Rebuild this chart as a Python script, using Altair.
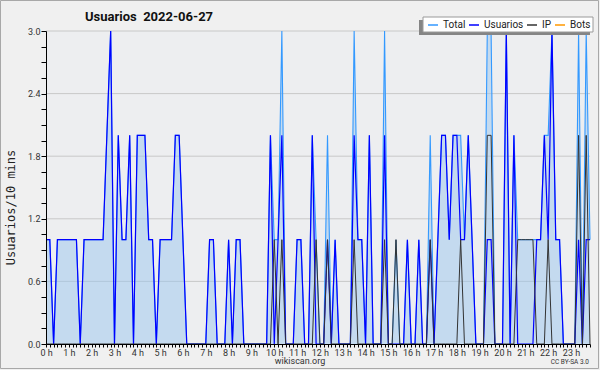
import altair as alt
import pandas as pd

# ---------------- data (10-minute slots, 2022-06-27) ----------------
slot_minutes = list(range(0, 1440, 10))

usuarios = [
    1, 1, 0, 1, 1, 1, 1, 1, 1, 0, 1, 1,
    1, 1, 1, 1, 2, 3, 0, 2, 1, 1, 2, 0,
    2, 2, 2, 1, 1, 0, 1, 1, 1, 1, 2, 2,
    1, 0, 0, 0, 0, 0, 0, 1, 1, 0, 0, 0,
    1, 0, 1, 1, 0, 0, 0, 0, 0, 0, 0, 2,
    0, 1, 2, 0, 0, 0, 1, 1, 0, 0, 2, 0,
    0, 0, 1, 0, 1, 0, 0, 0, 0, 2, 1, 1,
    0, 2, 0, 0, 0, 2, 0, 0, 0, 0, 0, 1,
    0, 0, 1, 0, 0, 1, 0, 1, 2, 2, 1, 2,
    2, 1, 1, 2, 1, 0, 0, 0, 1, 1, 0, 0,
    0, 3, 0, 2, 0, 0, 0, 0, 0, 1, 1, 2,
    1, 3, 1, 1, 0, 0, 0, 0, 1, 0, 1, 1,
]

ip = [
    0, 0, 0, 0, 0, 0, 0, 0, 0, 0, 0, 0,
    0, 0, 0, 0, 0, 0, 0, 0, 0, 0, 0, 0,
    0, 0, 0, 0, 0, 0, 0, 0, 0, 0, 0, 0,
    0, 0, 0, 0, 0, 0, 0, 0, 0, 0, 0, 0,
    0, 0, 0, 0, 0, 0, 0, 0, 0, 0, 0, 0,
    1, 0, 1, 0, 0, 0, 0, 0, 0, 0, 0, 1,
    0, 0, 1, 0, 0, 0, 0, 0, 0, 1, 0, 0,
    0, 0, 0, 0, 0, 1, 0, 0, 1, 0, 0, 0,
    0, 0, 0, 0, 0, 1, 0, 0, 0, 0, 0, 0,
    0, 1, 0, 0, 0, 0, 0, 0, 2, 2, 0, 0,
    0, 0, 0, 0, 1, 1, 1, 1, 1, 0, 0, 0,
    1, 0, 0, 0, 0, 0, 0, 0, 2, 0, 2, 0,
]

total = [
    1, 1, 0, 1, 1, 1, 1, 1, 1, 0, 1, 1,
    1, 1, 1, 1, 2, 3, 0, 2, 1, 1, 2, 0,
    2, 2, 2, 1, 1, 0, 1, 1, 1, 1, 2, 2,
    1, 0, 0, 0, 0, 0, 0, 1, 1, 0, 0, 0,
    1, 0, 1, 1, 0, 0, 0, 0, 0, 0, 0, 2,
    1, 1, 3, 0, 0, 0, 1, 1, 0, 0, 2, 1,
    0, 0, 2, 0, 1, 0, 0, 0, 0, 3, 1, 1,
    0, 2, 0, 0, 0, 3, 0, 0, 1, 0, 0, 1,
    0, 0, 1, 0, 0, 2, 0, 1, 2, 2, 1, 2,
    2, 2, 1, 2, 1, 0, 0, 0, 3, 3, 0, 0,
    0, 3, 0, 2, 1, 1, 1, 1, 1, 1, 1, 2,
    2, 3, 1, 1, 0, 0, 0, 0, 3, 0, 3, 1,
]

series_names = ["Total", "Usuarios", "IP", "Bots"]
series_colors = ["#3399ff", "#0000ff", "#333333", "#ff9900"]

y_tick_values = [0.0, 0.15, 0.3, 0.45, 0.6, 0.75, 0.9, 1.05, 1.2, 1.35, 1.5,
                 1.65, 1.8, 1.95, 2.1, 2.25, 2.4, 2.55, 2.7, 2.85, 3.0]
y_grid_values = [0.6, 1.2, 1.8, 2.4, 3.0]

title_text = "Usuarios\u00a0 2022-06-27"
y_title = "Usuarios/10 mins"
footer_site = "wikiscan.org"
footer_license = "CC BY-SA 3.0"

# ---------------- tables ----------------
hours = [m / 60 for m in slot_minutes]
df = pd.DataFrame({"hora": hours, "Total": total, "Usuarios": usuarios, "IP": ip})
long = df.melt("hora", value_vars=["Total", "Usuarios", "IP"],
               var_name="serie", value_name="valor")
grid_df = pd.DataFrame({"g": y_grid_values})
one = pd.DataFrame({"k": [0]})

W, H = 544, 313

x_scale = alt.Scale(domain=[0, hours[-1]], nice=False, zero=False)
y_scale = alt.Scale(domain=[0, 3], nice=False)

x_axis = alt.Axis(
    values=hours, title=None, grid=False,
    labelExpr="datum.value % 1 === 0 ? datum.value + ' h' : ''",
    labelOverlap=False, labelFlush=False, labelBound=False,
    labelFont="Roboto", labelFontSize=9, labelColor="#333", labelPadding=1,
    tickSize=3, tickColor="#000", domainColor="#000", zindex=1,
)
y_axis = alt.Axis(
    values=y_tick_values, grid=False,
    labelExpr="indexof(['0','0.6','1.2','1.8','2.4','3'], toString(datum.value)) >= 0 ? format(datum.value, '.1f') : ''",
    labelOverlap=False, labelFlush=False,
    labelFont="Roboto", labelFontSize=9, labelColor="#333", labelPadding=1,
    tickSize=5, tickColor="#000", domainColor="#000", zindex=1,
    title=y_title, titleFont="DejaVu Sans Mono", titleFontSize=12,
    titleFontWeight="normal", titleColor="#222", titleAngle=270,
    titleX=-36, titleY=176, titleAlign="center", titleBaseline="middle",
)

color_enc = alt.Color(
    "serie:N",
    scale=alt.Scale(domain=series_names, range=series_colors),
    legend=alt.Legend(
        orient="none", legendX=381, legendY=-12, direction="horizontal",
        title=None, symbolType="stroke", symbolSize=100, symbolStrokeWidth=1.5,
        labelFont="Roboto", labelFontSize=10, labelColor="#222",
        labelOffset=4, columnPadding=0, padding=0,
    ),
)

border = alt.Chart(one).mark_rect(fillOpacity=0, stroke="#a8a8a8", strokeWidth=1).encode(
    x=alt.value(-45.5), x2=alt.value(552.5), y=alt.value(-30.5), y2=alt.value(337.5))

grid = alt.Chart(grid_df).mark_rule(color="#c8c8c8", strokeWidth=1).encode(
    y=alt.Y("g:Q", scale=y_scale, axis=y_axis))

area = alt.Chart(df).mark_area(color="#9cc6ee", opacity=0.5, interpolate="linear").encode(
    x=alt.X("hora:Q", scale=x_scale, axis=x_axis),
    y=alt.Y("Total:Q", scale=y_scale, axis=y_axis),
)

def series_line(name, width):
    return alt.Chart(long).transform_filter(
        alt.datum.serie == name
    ).mark_line(strokeWidth=width, interpolate="linear").encode(
        x=alt.X("hora:Q", scale=x_scale, axis=x_axis),
        y=alt.Y("valor:Q", scale=y_scale, axis=y_axis),
        color=color_enc,
    )

line_total = series_line("Total", 1.1)
line_users = series_line("Usuarios", 1.2)
line_ip = series_line("IP", 1.0)

shadow = alt.Chart(one).mark_rect(color="#858585").encode(
    x=alt.value(373), x2=alt.value(544), y=alt.value(-11), y2=alt.value(4))
legend_box = alt.Chart(one).mark_rect(fill="white", stroke="#9a9a9a", strokeWidth=1).encode(
    x=alt.value(377), x2=alt.value(547), y=alt.value(-14), y2=alt.value(1))

title = alt.Chart(one).mark_text(
    text=title_text, font="Roboto", fontSize=13, fontWeight="bold",
    color="#111", align="left", baseline="alphabetic",
).encode(x=alt.value(39), y=alt.value(-10))

site = alt.Chart(one).mark_text(
    text=footer_site, font="Roboto", fontSize=9, color="#333",
    align="center", baseline="alphabetic",
).encode(x=alt.value(254), y=alt.value(333))

lic = alt.Chart(one).mark_text(
    text=footer_license, font="Roboto", fontSize=6.5, color="#333",
    align="right", baseline="alphabetic",
).encode(x=alt.value(543), y=alt.value(333))

chart = alt.layer(
    border, grid, area, line_total, line_users, line_ip,
    shadow, legend_box, title, site, lic,
).properties(
    width=W, height=H,
    autosize=alt.AutoSizeParams(type="none"),
    padding={"left": 46, "top": 31, "right": 10, "bottom": 26},
).configure(
    background="#f0f0f0",
).configure_view(
    stroke=None, fill="#edeef0",
)

chart.save("out.html", embed_options={"renderer": "svg", "actions": False})
